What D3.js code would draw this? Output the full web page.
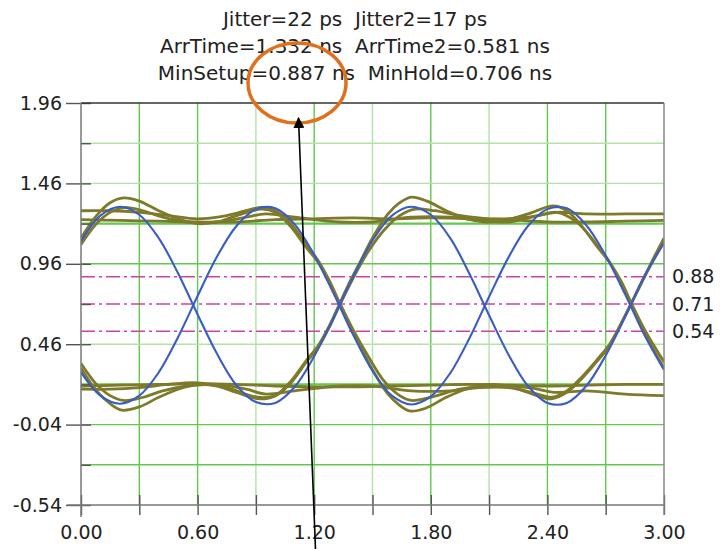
<!DOCTYPE html>
<html>
<head>
<meta charset="utf-8">
<script src="https://cdn.jsdelivr.net/npm/d3@7"></script>
<style>
  html, body { margin: 0; padding: 0; background: #fff; }
  svg { display: block; }
  text { font-family: "DejaVu Sans", Verdana, sans-serif; fill: #222; }
</style>
</head>
<body>
<svg id="chart" width="720" height="549"></svg>
<script>
// ---- readouts shown above the plot ----
const summaryLines = [
  "Jitter=22 ps  Jitter2=17 ps",
  "ArrTime=1.332 ns  ArrTime2=0.581 ns",
  "MinSetup=0.887 ns  MinHold=0.706 ns"
];

// ---- axes ----
const yLabelTicks = [1.96, 1.46, 0.96, 0.46, -0.04, -0.54];
const yMinorTicks = [1.71, 1.21, 0.71, 0.21, -0.29];
const xLabelTicks = [0.0, 0.6, 1.2, 1.8, 2.4, 3.0];
const xMinorTicks = [0.3, 0.9, 1.5, 2.1, 2.7];

// ---- threshold levels (V) ----
const thresholds = [0.88, 0.71, 0.54];

// ---- clock pair (blue), sampled every 0.1 ns ----
const blueTimes = [0.0,0.1,0.2,0.3,0.4,0.5,0.6,0.7,0.8,0.9,1.0,1.1,1.2,1.3,1.4,1.5,
                   1.6,1.7,1.8,1.9,2.0,2.1,2.2,2.3,2.4,2.5,2.6,2.7,2.8,2.9,3.0];
const bluePos = [1.10,1.26,1.315,1.265,1.12,0.90,0.645,0.40,0.205,0.10,0.095,0.195,0.385,0.625,0.88,1.105,
                 1.26,1.315,1.265,1.12,0.895,0.64,0.395,0.20,0.095,0.095,0.20,0.39,0.63,0.885,1.09];
const blueNeg = [0.285,0.14,0.09,0.14,0.285,0.505,0.76,1.005,1.195,1.30,1.305,1.205,1.015,0.775,0.52,0.295,
                 0.14,0.085,0.135,0.28,0.50,0.755,1.00,1.195,1.30,1.305,1.20,1.01,0.77,0.515,0.30];

// ---- data lines (olive), [time ns, volts] ----
const data0101 = [[0.00,1.12],[0.08,1.26],[0.15,1.34],[0.22,1.37],[0.30,1.35],[0.40,1.29],[0.50,1.24],
  [0.60,1.21],[0.70,1.22],[0.80,1.26],[0.93,1.30],[1.00,1.28],[1.08,1.19],[1.16,1.06],[1.22,0.97],
  [1.28,0.84],[1.33,0.71],[1.38,0.58],[1.44,0.44],[1.50,0.30],[1.58,0.15],[1.64,0.08],[1.69,0.045],
  [1.77,0.06],[1.88,0.13],[1.98,0.18],[2.10,0.21],[2.20,0.20],[2.30,0.16],[2.42,0.12],[2.50,0.16],
  [2.58,0.25],[2.66,0.36],[2.72,0.45],[2.78,0.59],[2.83,0.71],[2.88,0.83],[2.94,0.98],[3.00,1.12]];
const data1010 = [[0.00,0.31],[0.08,0.17],[0.15,0.09],[0.21,0.05],[0.30,0.07],[0.40,0.13],[0.50,0.18],
  [0.60,0.21],[0.70,0.20],[0.80,0.16],[0.92,0.12],[1.00,0.14],[1.08,0.23],[1.16,0.36],[1.22,0.45],
  [1.28,0.58],[1.33,0.71],[1.38,0.84],[1.44,0.98],[1.50,1.12],[1.58,1.27],[1.64,1.34],[1.70,1.375],
  [1.78,1.35],[1.88,1.29],[1.98,1.24],[2.08,1.22],[2.18,1.23],[2.30,1.27],[2.43,1.32],[2.50,1.29],
  [2.58,1.19],[2.66,1.06],[2.72,0.97],[2.78,0.84],[2.83,0.71],[2.88,0.58],[2.94,0.44],[3.00,0.31]];
const data0110 = [[0.00,1.08],[0.08,1.21],[0.15,1.28],[0.22,1.31],[0.32,1.29],[0.42,1.25],[0.55,1.22],
  [0.70,1.22],[0.85,1.25],[0.95,1.27],[1.10,1.25],[1.33,1.22],[1.50,1.22],[1.70,1.25],[1.90,1.25],
  [2.05,1.23],[2.20,1.22],[2.35,1.26],[2.45,1.28],[2.55,1.22],[2.64,1.10],[2.72,0.97],[2.78,0.85],
  [2.83,0.72],[2.90,0.55],[3.00,0.35]];
const data1001 = [[0.00,0.34],[0.08,0.21],[0.15,0.14],[0.22,0.11],[0.32,0.13],[0.42,0.17],[0.55,0.20],
  [0.70,0.21],[0.85,0.18],[0.95,0.15],[1.10,0.17],[1.33,0.20],[1.50,0.20],[1.70,0.17],[1.90,0.17],
  [2.05,0.19],[2.20,0.19],[2.35,0.15],[2.42,0.13],[2.50,0.17],[2.58,0.26],[2.66,0.37],[2.72,0.46],
  [2.78,0.59],[2.83,0.71],[2.90,0.88],[3.00,1.10]];
const data1100 = [[0.00,1.29],[0.15,1.29],[0.30,1.28],[0.45,1.26],[0.60,1.24],[0.75,1.26],[0.93,1.31],
  [1.00,1.29],[1.08,1.21],[1.16,1.08],[1.22,0.98],[1.28,0.85],[1.33,0.72],[1.40,0.55],[1.48,0.38],
  [1.56,0.23],[1.64,0.14],[1.70,0.11],[1.80,0.13],[1.95,0.18],[2.10,0.20],[2.30,0.19],[2.45,0.16],
  [2.60,0.17],[2.80,0.15],[3.00,0.14]];
const data0011 = [[0.00,0.18],[0.15,0.18],[0.30,0.19],[0.45,0.21],[0.60,0.22],[0.75,0.19],[0.91,0.13],
  [1.00,0.14],[1.08,0.22],[1.16,0.35],[1.22,0.44],[1.28,0.57],[1.33,0.70],[1.40,0.87],[1.48,1.04],
  [1.56,1.17],[1.64,1.26],[1.72,1.30],[1.82,1.29],[1.95,1.26],[2.10,1.24],[2.30,1.25],[2.45,1.28],
  [2.60,1.27],[2.80,1.27],[3.00,1.27]];
const data1111 = [[0.00,1.235],[0.20,1.23],[0.40,1.225],[0.60,1.22],[0.80,1.22],[1.00,1.235],[1.20,1.24],
  [1.40,1.245],[1.60,1.24],[1.80,1.245],[2.00,1.24],[2.20,1.235],[2.40,1.22],[2.60,1.22],[2.80,1.225],[3.00,1.23]];
const data0000 = [[0.00,0.20],[0.20,0.205],[0.40,0.21],[0.60,0.215],[0.80,0.21],[1.00,0.20],[1.20,0.195],
  [1.40,0.195],[1.60,0.20],[1.80,0.205],[2.00,0.21],[2.20,0.205],[2.40,0.20],[2.60,0.205],[2.80,0.21],[3.00,0.21]];

const dataLines = [data1111, data0000, data1100, data0011, data0110, data1001, data0101, data1010];

// ---- layout ----
const svg = d3.select("#chart");
const plot = { left: 81, right: 664, top: 103, bottom: 505 };

const x = d3.scaleLinear().domain([0, 3]).range([plot.left, plot.right]);
const y = d3.scaleLinear().domain([-0.54, 1.96]).range([plot.bottom, plot.top]);

const GREEN = "#62c84e", GREEN_FAINT = "#b3e1a6";
const OLIVE = "#7d7a2a", BLUE = "#3a5cc4", PINK = "#cc44aa";
const fmt2 = d => d.toFixed(2);   // plain hyphen for negatives

svg.append("defs").append("clipPath").attr("id", "plotClip")
  .append("rect")
  .attr("x", plot.left).attr("y", plot.top)
  .attr("width", plot.right - plot.left).attr("height", plot.bottom - plot.top);

// ---- grid ----
const grid = svg.append("g");
const faintX = [0.9, 1.5, 2.1];
const faintY = [1.71, 1.46, 0.46];
const heavyY = [1.21, 0.21];
const gridX = xLabelTicks.concat(xMinorTicks).filter(d => d > 0 && d < 3).sort(d3.ascending);
const gridY = yLabelTicks.concat(yMinorTicks).filter(d => d > -0.54 && d < 1.96 && d !== 0.71);

grid.selectAll("line.gx").data(gridX).join("line")
  .attr("x1", d => x(d)).attr("x2", d => x(d))
  .attr("y1", plot.top).attr("y2", plot.bottom)
  .attr("stroke", d => faintX.includes(d) ? GREEN_FAINT : GREEN)
  .attr("stroke-width", 1.4);

grid.selectAll("line.gy").data(gridY).join("line")
  .attr("x1", plot.left).attr("x2", plot.right)
  .attr("y1", d => y(d)).attr("y2", d => y(d))
  .attr("stroke", d => faintY.includes(d) ? GREEN_FAINT : GREEN)
  .attr("stroke-width", d => heavyY.includes(d) ? 2.2 : 1.4);

// ---- threshold lines ----
svg.append("g").selectAll("line").data(thresholds).join("line")
  .attr("x1", plot.left).attr("x2", plot.right)
  .attr("y1", d => y(d)).attr("y2", d => y(d))
  .attr("stroke", PINK).attr("stroke-width", 1.5)
  .attr("stroke-dasharray", "14,4,3,4");

svg.append("g").selectAll("text").data(thresholds).join("text")
  .attr("x", plot.right + 8).attr("y", d => y(d)).attr("dy", "0.35em")
  .style("font-size", "19px")
  .text(fmt2);

// ---- traces ----
const traces = svg.append("g").attr("clip-path", "url(#plotClip)");
const line = d3.line()
  .x(d => x(d[0])).y(d => y(d[1]))
  .curve(d3.curveCatmullRom.alpha(0.5));

traces.selectAll("path.data").data(dataLines).join("path")
  .attr("d", line)
  .attr("fill", "none")
  .attr("stroke", OLIVE)
  .attr("stroke-width", 2.8)
  .attr("stroke-linejoin", "round");

const bluePairs = [bluePos, blueNeg].map(vals => blueTimes.map((t, i) => [t, vals[i]]));
traces.selectAll("path.clk").data(bluePairs).join("path")
  .attr("d", line)
  .attr("fill", "none")
  .attr("stroke", BLUE)
  .attr("stroke-width", 2.1);

// ---- axes ----
const AXIS = "#555";
const yAxisOut = d3.axisLeft(y).tickValues(yLabelTicks).tickSizeInner(15).tickSizeOuter(0)
  .tickPadding(4).tickFormat(fmt2);
const yAxisIn = d3.axisRight(y).tickValues(yLabelTicks.concat(yMinorTicks)).tickSizeInner(10)
  .tickSizeOuter(0).tickFormat("");
const xAxisOut = d3.axisBottom(x).tickValues(xLabelTicks.concat(xMinorTicks)).tickSizeInner(10)
  .tickSizeOuter(0).tickPadding(11)
  .tickFormat(d => xLabelTicks.includes(d) ? fmt2(d) : "");
const xAxisIn = d3.axisTop(x).tickValues(xLabelTicks.concat(xMinorTicks)).tickSizeInner(10)
  .tickSizeOuter(0).tickFormat("");

function styleAxis(g) {
  g.select(".domain").remove();
  g.selectAll(".tick line").attr("stroke", AXIS).attr("stroke-width", 1.4);
  g.selectAll(".tick text").style("font-size", "19px").attr("fill", "#222")
    .style("font-family", "'DejaVu Sans', Verdana, sans-serif");
}

svg.append("g").attr("transform", `translate(${plot.left},0)`).call(yAxisOut).call(styleAxis);
svg.append("g").attr("transform", `translate(${plot.left},0)`).call(yAxisIn).call(styleAxis);
svg.append("g").attr("transform", `translate(0,${plot.bottom})`).call(xAxisOut).call(styleAxis);
svg.append("g").attr("transform", `translate(0,${plot.bottom})`).call(xAxisIn).call(styleAxis);

// frame and axis lines
const frame = svg.append("g").attr("fill", "none");
frame.append("line").attr("x1", plot.left).attr("x2", plot.right).attr("y1", plot.top).attr("y2", plot.top)
  .attr("stroke", "#333").attr("stroke-width", 1.5);
frame.append("line").attr("x1", plot.right).attr("x2", plot.right).attr("y1", plot.top).attr("y2", plot.bottom + 10)
  .attr("stroke", "#888").attr("stroke-width", 1.5);
frame.append("line").attr("x1", plot.left - 14).attr("x2", plot.right).attr("y1", plot.bottom).attr("y2", plot.bottom)
  .attr("stroke", "#777").attr("stroke-width", 1.5);
frame.append("line").attr("x1", plot.left).attr("x2", plot.left).attr("y1", plot.top).attr("y2", plot.bottom + 12)
  .attr("stroke", "#777").attr("stroke-width", 1.5);

// ---- readout text ----
svg.append("g").selectAll("text").data(summaryLines).join("text")
  .attr("x", 355).attr("y", (d, i) => 26 + i * 27)
  .attr("text-anchor", "middle")
  .style("font-size", "20px")
  .style("white-space", "pre")
  .text(d => d);

// ---- callout: ring around the setup margin and a pointer to it ----
const callout = svg.append("g");
callout.append("ellipse")
  .attr("cx", 297).attr("cy", 83).attr("rx", 49).attr("ry", 40)
  .attr("fill", "none").attr("stroke", "#e0701c").attr("stroke-width", 3.5);

svg.append("defs").append("marker")
  .attr("id", "arrowHead").attr("viewBox", "0 0 10 10")
  .attr("refX", 9).attr("refY", 5)
  .attr("markerWidth", 7).attr("markerHeight", 7)
  .attr("markerUnits", "strokeWidth")
  .attr("orient", "auto")
  .append("path").attr("d", "M0,0 L10,5 L0,10 z").attr("fill", "#000");

callout.append("line")
  .attr("x1", 315.5).attr("y1", 549).attr("x2", 298.5).attr("y2", 118)
  .attr("stroke", "#000").attr("stroke-width", 1.6)
  .attr("marker-end", "url(#arrowHead)");
</script>
</body>
</html>
